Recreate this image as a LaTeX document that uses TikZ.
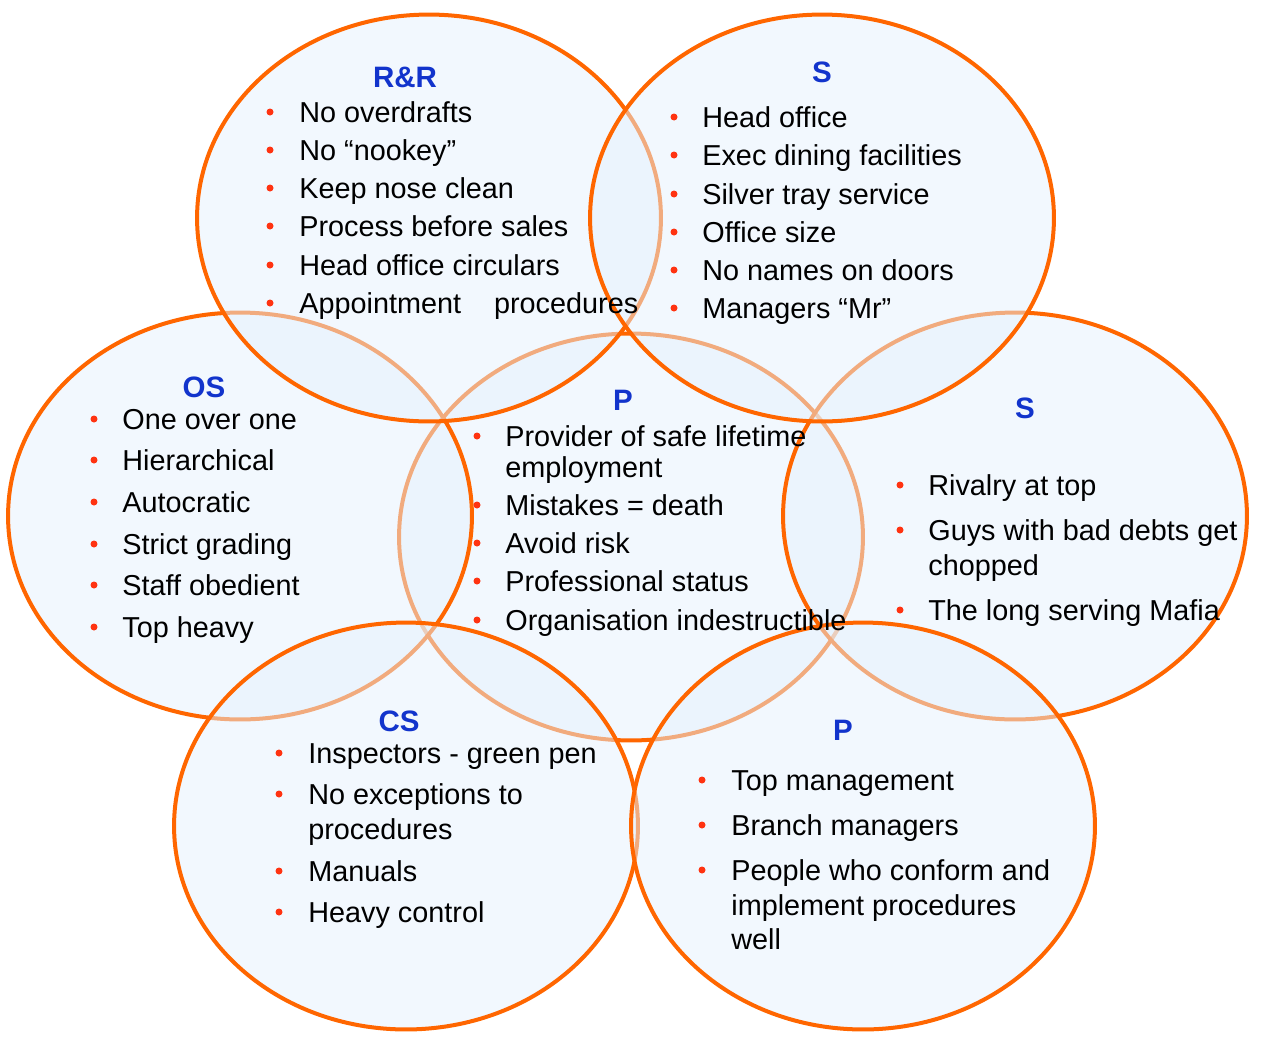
\documentclass[tikz,border=0pt]{standalone}
\usepackage{fontspec}
\setmainfont{Liberation Sans}
\usetikzlibrary{shapes.geometric}
\definecolor{ringorange}{RGB}{255,102,0}
\definecolor{ringfill}{RGB}{229,241,253}
\definecolor{headblue}{RGB}{18,52,204}
\definecolor{bulletred}{RGB}{255,51,17}

\begin{document}
\begin{tikzpicture}[
    x=0.02cm, y=-0.02cm,
    ring/.style={ellipse, draw=ringorange, line width=0.08cm, fill=ringfill, fill opacity=0.5, minimum width=9.28cm, minimum height=8.14cm, inner sep=0},
    head/.style={font=\fontsize{16.8}{20}\selectfont\bfseries, text=headblue, inner sep=0},
    item/.style={anchor=base west, font=\fontsize{16.4}{20}\selectfont, inner sep=0},
    dot/.style={circle, fill=bulletred, minimum size=0.14cm, inner sep=0}
]
\useasboundingbox (0,0) rectangle (1264,1045);

% rings, back to front
\node[ring] (pc) at (631,537) {};
\node[ring] (os) at (240,516) {};
\node[ring] (sr) at (1015,516) {};
\node[ring] (rr) at (429,218) {};
\node[ring] (st) at (822,218) {};
\node[ring] (cs) at (406,826) {};
\node[ring] (pb) at (863,826) {};

% R&R
\node[head] (rrh) at (405,77) {R\&R};
\foreach \y/\t [count=\i] in {112/No overdrafts, 150/No “nookey”, 188/Keep nose clean, 226/Process before sales, 265/Head office circulars, 303/Appointment\hspace{0.66cm}procedures}
  \node[item] (rr\i) at (299,\y+10) {\t};
\foreach \y [count=\i] in {112,150,188,226,265,303}
  \node[dot] (rrb\i) at (270,\y) {};

% S (top)
\node[head] (sth) at (822,72) {S};
\foreach \y/\t [count=\i] in {117/Head office, 155/Exec dining facilities, 194/Silver tray service, 232/Office size, 270/No names on doors, 308/Managers “Mr”}
  \node[item] (st\i) at (702,\y+10) {\t};
\foreach \y [count=\i] in {117,155,194,232,270,308}
  \node[dot] (stb\i) at (674,\y) {};

% OS
\node[head] (osh) at (204,387) {OS};
\foreach \y/\t [count=\i] in {419/One over one, 460/Hierarchical, 502/Autocratic, 544/Strict grading, 585/Staff obedient, 627/Top heavy}
  \node[item] (os\i) at (122,\y+10) {\t};
\foreach \y [count=\i] in {419,460,502,544,585,627}
  \node[dot] (osb\i) at (94,\y) {};

% P (centre)
\node[head] (pch) at (623,400) {P};
\foreach \y/\t [count=\i] in {436/Provider of safe lifetime, 467/employment, 505/Mistakes = death, 543/Avoid risk, 581/Professional status, 620/Organisation indestructible}
  \node[item] (pc\i) at (505,\y+10) {\t};
\foreach \y [count=\i] in {436,505,543,581,620}
  \node[dot] (pcb\i) at (477,\y) {};

% S (right)
\node[head] (srh) at (1025,408) {S};
\foreach \y/\t [count=\i] in {485/Rivalry at top, 530/Guys with bad debts get, 565/chopped, 610/The long serving Mafia}
  \node[item] (sr\i) at (928,\y+10) {\t};
\foreach \y [count=\i] in {485,530,610}
  \node[dot] (srb\i) at (900,\y) {};

% CS
\node[head] (csh) at (399,721) {CS};
\foreach \y/\t [count=\i] in {753/Inspectors - green pen, 794/No exceptions to, 829/procedures, 871/Manuals, 912/Heavy control}
  \node[item] (cs\i) at (308,\y+10) {\t};
\foreach \y [count=\i] in {753,794,871,912}
  \node[dot] (csb\i) at (279,\y) {};

% P (bottom right)
\node[head] (pbh) at (843,730) {P};
\foreach \y/\t [count=\i] in {780/Top management, 825/Branch managers, 870/People who conform and, 905/implement procedures, 939/well}
  \node[item] (pb\i) at (731,\y+10) {\t};
\foreach \y [count=\i] in {780,825,870}
  \node[dot] (pbb\i) at (702,\y) {};
\end{tikzpicture}
\end{document}
